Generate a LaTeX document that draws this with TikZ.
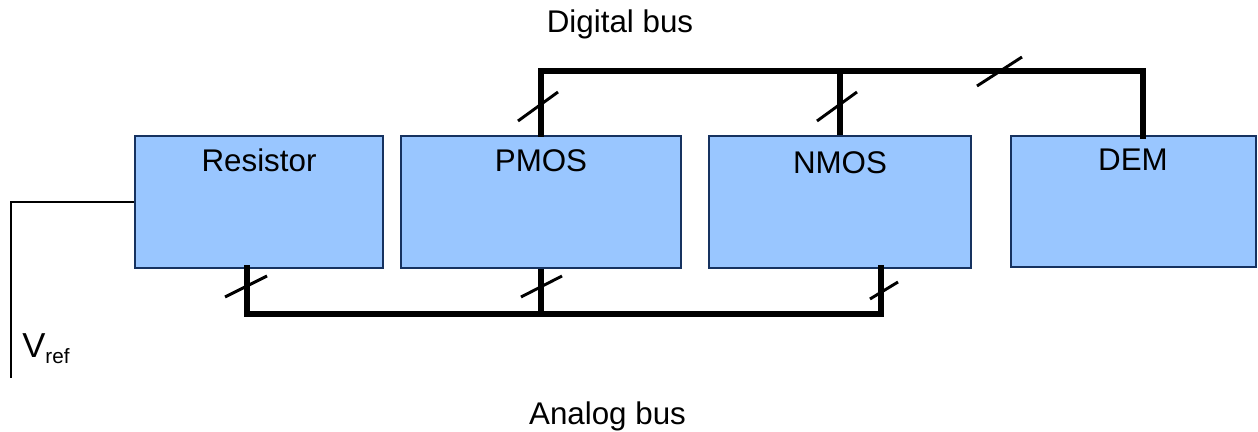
\documentclass[tikz,border=0pt]{standalone}
\usepackage{fontspec}
\setmainfont{Liberation Sans}
\definecolor{boxfill}{HTML}{99C6FF}
\definecolor{boxline}{HTML}{163260}
\begin{document}
\begin{tikzpicture}[x=0.75pt,y=-0.75pt,
  blk/.style={draw=boxline,fill=boxfill,line width=1.8pt,inner sep=0pt},
  lbl/.style={font=\fontsize{23.5}{28}\selectfont,inner sep=0pt,anchor=base},
  bus/.style={line width=3.8pt},
  tick/.style={line width=2.2pt},
  wire/.style={line width=1.5pt}]
\useasboundingbox (0,0) rectangle (1258,432);
\node[blk,minimum width=186pt,minimum height=99pt] (res) at (259,202) {};
\node[blk,minimum width=210pt,minimum height=99pt] (pmos) at (541,202) {};
\node[blk,minimum width=196.5pt,minimum height=99pt] (nmos) at (840,202) {};
\node[blk,minimum width=183.75pt,minimum height=98.25pt] (dem) at (1133.5,201.5) {};
\node[lbl] (tres) at (259,171) {Resistor};
\node[lbl] (tpmos) at (541,171) {PMOS};
\node[lbl] (tnmos) at (840,173) {NMOS};
\node[lbl] (tdem) at (1133,170) {DEM};
\node[lbl] (tdig) at (620,32) {Digital bus};
\node[lbl] (tana) at (607.5,424) {Analog bus};
\node[lbl,anchor=base west,font=\fontsize{26}{30}\selectfont] (tvref) at (22,357) {V\raisebox{-4.5pt}{\fontsize{15.5}{18}\selectfont ref}};
% digital bus
\coordinate (dl) at (541,71);
\coordinate (dm) at (840,71);
\coordinate (dr) at (1143,71);
\coordinate (demtop) at (1143,136);
\draw[bus,line cap=rect] (pmos.north) -- (dl) -- (dr) -- (demtop);
\draw[bus] (dm) -- (nmos.north);
% analog bus
\coordinate (rb) at (247,268);
\coordinate (al) at (247,314);
\coordinate (am) at (541,314);
\coordinate (ar) at (881,314);
\coordinate (nb) at (881,268);
\draw[bus,line cap=rect] (rb) -- (al) -- (ar) -- (nb);
\draw[bus] (pmos.south) -- (am);
% slashes
\draw[tick] (518,121) -- (558,92);
\draw[tick] (817,121) -- (857,92);
\draw[tick] (977,86) -- (1022,57);
\draw[tick] (225,297) -- (267,276);
\draw[tick] (521,297) -- (562,276);
\draw[tick] (870,299) -- (898,282);
% Vref wire
\coordinate (vc) at (11,202);
\coordinate (vb) at (11,378);
\draw[wire] (res.west |- vc) -- (vc) -- (vb);
\end{tikzpicture}
\end{document}
